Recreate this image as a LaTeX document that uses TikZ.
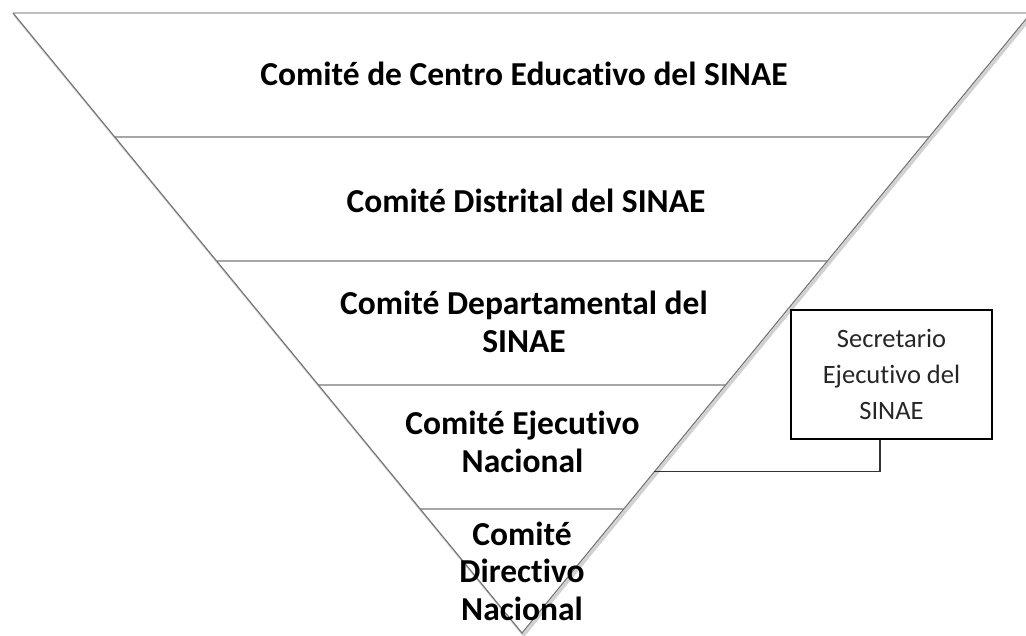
\documentclass[tikz,border=0pt]{standalone}
\usepackage{fontspec}
\setmainfont{Carlito}[Ligatures={NoCommon}]
\usetikzlibrary{calc}
\begin{document}
\begin{tikzpicture}[x=1pt,y=-1pt,
  edgeshadow/.style={draw=black!18,line width=3.2pt,line cap=round},
  edgeline/.style={draw=black!55,line width=1.1pt},
  divider/.style={draw=black!35,line width=1.4pt},
  toplabel/.style={font=\fontsize{33.5}{37.5}\selectfont\bfseries,align=center,inner sep=0pt,anchor=base},
  secbox/.style={draw=black,line width=1.2pt,minimum width=201pt,minimum height=129pt,
     font=\fontsize{26.5}{36}\selectfont,align=center,text=black!85},
  link/.style={draw=black!80,line width=1.3pt}]
\useasboundingbox (0,0) rectangle (1026,635);
\fill[white] (0,0) rectangle (1026,635);
\begin{scope}
\clip (0,0) rectangle (1026,635);
\coordinate (tl) at (13,13);
\coordinate (tr) at (1031,13);
\coordinate (apex) at (522,633);
% shadow
\draw[edgeshadow] ($(tl)+(1.8,1.8)$) -- ($(apex)+(1.8,1.8)$) -- ($(tr)+(1.8,1.8)$);
\fill[white] (tl) -- (tr) -- (apex) -- cycle;
% dividers
\foreach \t in {0.2,0.4,0.6,0.8}{
  \draw[divider] ($(tl)!\t!(apex)$) -- ($(tr)!\t!(apex)$);
}
\draw[draw=black!25,line width=2pt] (tl) -- (tr);
\draw[edgeline] (tl) -- (apex) -- (tr);
\end{scope}
\node[toplabel] (c1) at (524,85) {Comité de Centro Educativo del SINAE};
\node[toplabel] (c2) at (526,212) {Comité Distrital del SINAE};
\node[toplabel] (c3) at (524,352) {Comité Departamental del\\SINAE};
\node[toplabel] (c4) at (522.5,472) {Comité Ejecutivo\\Nacional};
\node[toplabel] (c5) at (522,620) {Comité\\Directivo\\Nacional};
\node[secbox] (sec) at (891.5,374.5) {Secretario\\Ejecutivo del\\SINAE};
\coordinate (edgept) at ($(tr)!0.74!(apex)$);
\draw[link] ($(sec.south west)!0.443!(sec.south east)$) |- (edgept);
\end{tikzpicture}
\end{document}
